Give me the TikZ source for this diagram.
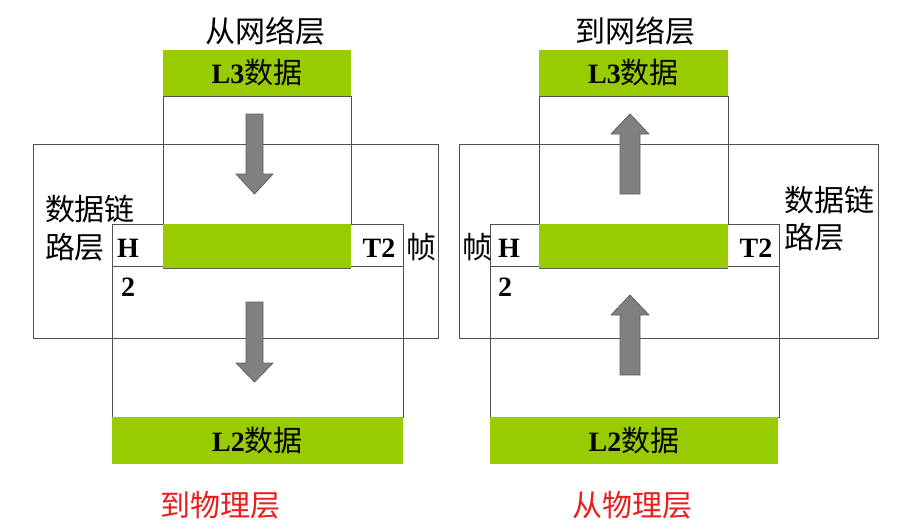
\documentclass[tikz,border=0pt]{standalone}
\usepackage{fontspec}
\setmainfont{Liberation Serif}
\newfontfamily\cjk{Noto Sans CJK SC}
\definecolor{boxgreen}{RGB}{153,204,0}
\definecolor{linegray}{RGB}{80,80,80}
\definecolor{arrowfill}{RGB}{128,128,128}
\definecolor{arrowedge}{RGB}{95,95,95}
\definecolor{labelred}{RGB}{235,30,30}
\newcommand{\cjkdata}{{\fontsize{29}{30}\selectfont\cjk\mdseries 数据}}
\tikzset{
  frameline/.style={draw=linegray, line width=0.9pt},
  greenbox/.style={fill=boxgreen, draw=none, inner sep=0pt, outer sep=0pt, anchor=north west},
  blockarrow/.style={fill=arrowfill, draw=arrowedge, line width=0.8pt, line join=round},
  cjktext/.style={font=\fontsize{30}{32}\selectfont\cjk, inner sep=0pt},
  boldtext/.style={font=\fontsize{28}{30}\selectfont\bfseries, inner sep=0pt},
  redtext/.style={font=\fontsize{30}{32}\selectfont\cjk, text=labelred, inner sep=0pt},
}
\begin{document}
\begin{tikzpicture}[x=1pt,y=-1pt]
\useasboundingbox (0,0) rectangle (900,525);
\fill[white] (0,0) rectangle (900,525);

% ================= LEFT PANEL =================
\draw[frameline] (33,144) rectangle (438,338);           % data link layer
\draw[frameline] (163,96) rectangle (351,224);           % L3 column
\draw[frameline] (112,224) rectangle (403,417);          % frame
\draw[frameline] (112,266) -- (403,266);
\node[greenbox, minimum width=188pt, minimum height=46pt] (l3a) at (163,50) {};
\node[boldtext] at (l3a.center) {L3\cjkdata};
\node[greenbox, minimum width=188pt, minimum height=44pt] (mida) at (163,224) {};
\draw[arrowedge, line width=0.8pt] (163,268) -- (351,268);
\node[greenbox, minimum width=291pt, minimum height=47pt] (l2a) at (112,417) {};
\node[boldtext] at (l2a.center) {L2\cjkdata};

\node[cjktext] (froma) at (265,31) {从网络层};
\node[redtext] (toa) at (220,505) {到物理层};
\node[cjktext] (dlla) at (90,209) {数据链};
\node[cjktext, anchor=west] (dllb) at (dlla.west |- 0,247) {路层};
\node[boldtext] (ha) at (128,248) {H};
\node[boldtext] (h2a) at (128,287) {2};
\node[boldtext] (t2a) at (379,248) {T2};
\node[cjktext] (zhena) at (421,247) {帧};

\draw[blockarrow] (246,114) -- (263,114) -- (263,174) -- (273,174) -- (254.5,194) -- (236,174) -- (246,174) -- cycle;
\draw[blockarrow] (246,302) -- (263,302) -- (263,363) -- (273,363) -- (254.5,382) -- (236,363) -- (246,363) -- cycle;

% ================= RIGHT PANEL =================
\draw[frameline] (459,144) rectangle (878,338);          % data link layer
\draw[frameline] (539,96) rectangle (728,224);           % L3 column
\draw[frameline] (490,224) rectangle (779,417);          % frame
\draw[frameline] (490,266) -- (779,266);
\node[greenbox, minimum width=189pt, minimum height=46pt] (l3b) at (539,50) {};
\node[boldtext] at (l3b.center) {L3\cjkdata};
\node[greenbox, minimum width=189pt, minimum height=44pt] (midb) at (539,224) {};
\draw[arrowedge, line width=0.8pt] (539,268) -- (728,268);
\node[greenbox, minimum width=288pt, minimum height=47pt] (l2b) at (490,417) {};
\node[boldtext] at (l2b.center) {L2\cjkdata};

\node[cjktext] (tob) at (635,31) {到网络层};
\node[redtext] (fromb) at (632,505) {从物理层};
\node[cjktext] (dllc) at (829,200) {数据链};
\node[cjktext, anchor=west] (dlld) at (dllc.west |- 0,237) {路层};
\node[boldtext] (hb) at (509,248) {H};
\node[boldtext] (h2b) at (505,287) {2};
\node[boldtext] (t2b) at (756,248) {T2};
\node[cjktext] (zhenb) at (477,247) {帧};

\draw[blockarrow] (620,194) -- (640,194) -- (640,134) -- (649,134) -- (630,114) -- (611,134) -- (620,134) -- cycle;
\draw[blockarrow] (620,375) -- (640,375) -- (640,315) -- (649,315) -- (630,295) -- (611,315) -- (620,315) -- cycle;
\end{tikzpicture}
\end{document}
